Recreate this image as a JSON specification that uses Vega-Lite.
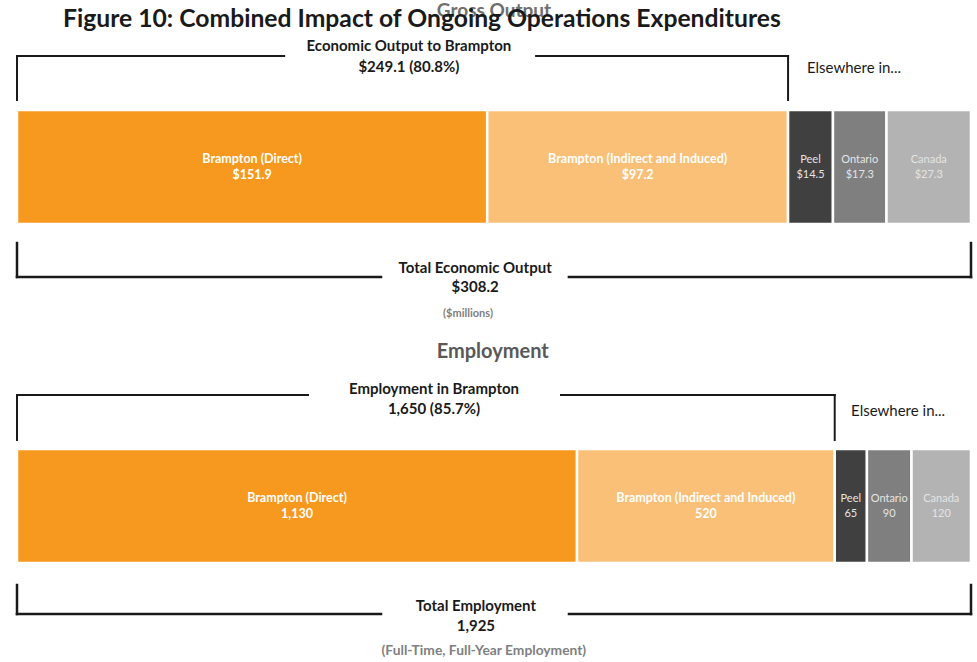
{
  "$schema": "https://vega.github.io/schema/vega-lite/v6.json",
  "padding": {"left": 15, "right": 5, "top": 0, "bottom": 0},
  "background": "white",
  "config": {"view": {"stroke": null}, "font": "Lato", "text": {"font": "Lato"}},
  "spacing": 10,
  "vconcat": [
    {
      "width": 954,
      "height": 330,
      "data": {"values": [
        {"region": "Brampton (Direct)", "value": 151.9, "order": 1},
        {"region": "Brampton (Indirect and Induced)", "value": 97.2, "order": 2},
        {"region": "Peel", "value": 14.5, "order": 3},
        {"region": "Ontario", "value": 17.3, "order": 4},
        {"region": "Canada", "value": 27.3, "order": 5}
      ]},
      "layer": [
        {
          "transform": [{"stack": "value", "groupby": [], "sort": [{"field": "order", "order": "ascending"}], "as": ["x0", "x1"]}],
          "mark": {"type": "bar", "stroke": "white", "strokeWidth": 2.5},
          "encoding": {
            "x": {"field": "x0", "type": "quantitative", "scale": {"domain": [0, 308.2], "nice": false, "zero": false}, "axis": null},
            "x2": {"field": "x1"},
            "y": {"datum": 110, "type": "quantitative", "scale": {"domain": [0, 330], "nice": false, "reverse": true, "zero": false}, "axis": null},
            "y2": {"datum": 224},
            "color": {"field": "region", "type": "nominal", "scale": {"domain": ["Brampton (Direct)", "Brampton (Indirect and Induced)", "Peel", "Ontario", "Canada"], "range": ["#F7991E", "#FAC078", "#404040", "#7F7F7F", "#B3B3B3"]}, "legend": null}
          }
        },
        {
          "transform": [{"stack": "value", "groupby": [], "sort": [{"field": "order", "order": "ascending"}], "as": ["x0", "x1"]}, {"calculate": "(datum.x0 + datum.x1) / 2", "as": "xm"}, {"filter": "datum.order <= 2"}],
          "mark": {"type": "text", "fontSize": 12.5, "fontWeight": "bold", "color": "white", "dy": -8},
          "encoding": {"x": {"field": "xm", "type": "quantitative"}, "y": {"datum": 167}, "text": {"field": "region"}}
        },
        {
          "transform": [{"stack": "value", "groupby": [], "sort": [{"field": "order", "order": "ascending"}], "as": ["x0", "x1"]}, {"calculate": "(datum.x0 + datum.x1) / 2", "as": "xm"}, {"filter": "datum.order <= 2"}],
          "mark": {"type": "text", "fontSize": 12.5, "fontWeight": "bold", "color": "white", "dy": 8},
          "encoding": {"x": {"field": "xm", "type": "quantitative"}, "y": {"datum": 167}, "text": {"field": "value", "format": "$.1f"}}
        },
        {
          "transform": [{"stack": "value", "groupby": [], "sort": [{"field": "order", "order": "ascending"}], "as": ["x0", "x1"]}, {"calculate": "(datum.x0 + datum.x1) / 2", "as": "xm"}, {"filter": "datum.order > 2"}],
          "mark": {"type": "text", "fontSize": 11, "color": "#e4e4e4", "dy": -7},
          "encoding": {"x": {"field": "xm", "type": "quantitative"}, "y": {"datum": 167}, "text": {"field": "region"}}
        },
        {
          "transform": [{"stack": "value", "groupby": [], "sort": [{"field": "order", "order": "ascending"}], "as": ["x0", "x1"]}, {"calculate": "(datum.x0 + datum.x1) / 2", "as": "xm"}, {"filter": "datum.order > 2"}],
          "mark": {"type": "text", "fontSize": 11, "color": "#e4e4e4", "dy": 8},
          "encoding": {"x": {"field": "xm", "type": "quantitative"}, "y": {"datum": 167}, "text": {"field": "value", "format": "$.1f"}}
        },
        {"data": {"values": [{}]}, "mark": {"type": "text", "fontSize": 19, "fontWeight": "bold", "color": "#6f6f6f"}, "encoding": {"x": {"datum": 154.1}, "y": {"datum": 11}, "text": {"value": "Gross Output"}}},
        {"data": {"values": [{}]}, "mark": {"type": "text", "fontSize": 24.7, "fontWeight": "bold", "color": "#1a1a1a", "align": "left"}, "encoding": {"x": {"datum": 14.86}, "y": {"datum": 20}, "text": {"value": "Figure 10: Combined Impact of Ongoing Operations Expenditures"}}},
        {"data": {"values": [{}]}, "mark": {"type": "rule", "strokeWidth": 2, "color": "#1a1a1a", "strokeCap": "square"}, "encoding": {"x": {"datum": 0}, "x2": {"datum": 86.3}, "y": {"datum": 56}}},
        {"data": {"values": [{}]}, "mark": {"type": "rule", "strokeWidth": 2, "color": "#1a1a1a", "strokeCap": "square"}, "encoding": {"x": {"datum": 167.7}, "x2": {"datum": 249.1}, "y": {"datum": 56}}},
        {"data": {"values": [{}]}, "mark": {"type": "rule", "strokeWidth": 2, "color": "#1a1a1a", "strokeCap": "square"}, "encoding": {"x": {"datum": 0}, "y": {"datum": 56}, "y2": {"datum": 100}}},
        {"data": {"values": [{}]}, "mark": {"type": "rule", "strokeWidth": 2, "color": "#1a1a1a", "strokeCap": "square"}, "encoding": {"x": {"datum": 249.1}, "y": {"datum": 56}, "y2": {"datum": 100}}},
        {"data": {"values": [{}]}, "mark": {"type": "text", "fontSize": 15, "fontWeight": "bold", "color": "#1a1a1a"}, "encoding": {"x": {"datum": 126.6}, "y": {"datum": 46}, "text": {"value": "Economic Output to Brampton"}}},
        {"data": {"values": [{}]}, "mark": {"type": "text", "fontSize": 15, "fontWeight": "bold", "color": "#1a1a1a"}, "encoding": {"x": {"datum": 126.6}, "y": {"datum": 67}, "text": {"value": "$249.1 (80.8%)"}}},
        {"data": {"values": [{}]}, "mark": {"type": "text", "fontSize": 15, "align": "left", "color": "#1a1a1a"}, "encoding": {"x": {"datum": 255.2}, "y": {"datum": 68}, "text": {"value": "Elsewhere in..."}}},
        {"data": {"values": [{}]}, "mark": {"type": "rule", "strokeWidth": 2.5, "color": "#1a1a1a", "strokeCap": "square"}, "encoding": {"x": {"datum": 0}, "y": {"datum": 243}, "y2": {"datum": 277}}},
        {"data": {"values": [{}]}, "mark": {"type": "rule", "strokeWidth": 2.5, "color": "#1a1a1a", "strokeCap": "square"}, "encoding": {"x": {"datum": 308.2}, "y": {"datum": 243}, "y2": {"datum": 277}}},
        {"data": {"values": [{}]}, "mark": {"type": "rule", "strokeWidth": 2.5, "color": "#1a1a1a", "strokeCap": "square"}, "encoding": {"x": {"datum": 0}, "x2": {"datum": 117.6}, "y": {"datum": 277}}},
        {"data": {"values": [{}]}, "mark": {"type": "rule", "strokeWidth": 2.5, "color": "#1a1a1a", "strokeCap": "square"}, "encoding": {"x": {"datum": 178.3}, "x2": {"datum": 308.2}, "y": {"datum": 277}}},
        {"data": {"values": [{}]}, "mark": {"type": "text", "fontSize": 15, "fontWeight": "bold", "color": "#1a1a1a"}, "encoding": {"x": {"datum": 148}, "y": {"datum": 268}, "text": {"value": "Total Economic Output"}}},
        {"data": {"values": [{}]}, "mark": {"type": "text", "fontSize": 15, "fontWeight": "bold", "color": "#1a1a1a"}, "encoding": {"x": {"datum": 148}, "y": {"datum": 287}, "text": {"value": "$308.2"}}},
        {"data": {"values": [{}]}, "mark": {"type": "text", "fontSize": 11, "fontWeight": "bold", "color": "#7f7f7f"}, "encoding": {"x": {"datum": 145.7}, "y": {"datum": 314}, "text": {"value": "($millions)"}}}
      ]
    },
    {
      "width": 954,
      "height": 322,
      "data": {"values": [
        {"region": "Brampton (Direct)", "value": 1130, "order": 1},
        {"region": "Brampton (Indirect and Induced)", "value": 520, "order": 2},
        {"region": "Peel", "value": 65, "order": 3},
        {"region": "Ontario", "value": 90, "order": 4},
        {"region": "Canada", "value": 120, "order": 5}
      ]},
      "layer": [
        {
          "transform": [{"stack": "value", "groupby": [], "sort": [{"field": "order", "order": "ascending"}], "as": ["x0", "x1"]}],
          "mark": {"type": "bar", "stroke": "white", "strokeWidth": 2.5},
          "encoding": {
            "x": {"field": "x0", "type": "quantitative", "scale": {"domain": [0, 1925], "nice": false, "zero": false}, "axis": null},
            "x2": {"field": "x1"},
            "y": {"datum": 109, "type": "quantitative", "scale": {"domain": [0, 322], "nice": false, "reverse": true, "zero": false}, "axis": null},
            "y2": {"datum": 223},
            "color": {"field": "region", "type": "nominal", "scale": {"domain": ["Brampton (Direct)", "Brampton (Indirect and Induced)", "Peel", "Ontario", "Canada"], "range": ["#F7991E", "#FAC078", "#404040", "#7F7F7F", "#B3B3B3"]}, "legend": null}
          }
        },
        {
          "transform": [{"stack": "value", "groupby": [], "sort": [{"field": "order", "order": "ascending"}], "as": ["x0", "x1"]}, {"calculate": "(datum.x0 + datum.x1) / 2", "as": "xm"}, {"filter": "datum.order <= 2"}],
          "mark": {"type": "text", "fontSize": 12.5, "fontWeight": "bold", "color": "white", "dy": -8},
          "encoding": {"x": {"field": "xm", "type": "quantitative"}, "y": {"datum": 166}, "text": {"field": "region"}}
        },
        {
          "transform": [{"stack": "value", "groupby": [], "sort": [{"field": "order", "order": "ascending"}], "as": ["x0", "x1"]}, {"calculate": "(datum.x0 + datum.x1) / 2", "as": "xm"}, {"filter": "datum.order <= 2"}],
          "mark": {"type": "text", "fontSize": 12.5, "fontWeight": "bold", "color": "white", "dy": 8},
          "encoding": {"x": {"field": "xm", "type": "quantitative"}, "y": {"datum": 166}, "text": {"field": "value", "format": ",d"}}
        },
        {
          "transform": [{"stack": "value", "groupby": [], "sort": [{"field": "order", "order": "ascending"}], "as": ["x0", "x1"]}, {"calculate": "(datum.x0 + datum.x1) / 2", "as": "xm"}, {"filter": "datum.order > 2"}],
          "mark": {"type": "text", "fontSize": 11, "color": "#e4e4e4", "dy": -7},
          "encoding": {"x": {"field": "xm", "type": "quantitative"}, "y": {"datum": 166}, "text": {"field": "region"}}
        },
        {
          "transform": [{"stack": "value", "groupby": [], "sort": [{"field": "order", "order": "ascending"}], "as": ["x0", "x1"]}, {"calculate": "(datum.x0 + datum.x1) / 2", "as": "xm"}, {"filter": "datum.order > 2"}],
          "mark": {"type": "text", "fontSize": 11, "color": "#e4e4e4", "dy": 8},
          "encoding": {"x": {"field": "xm", "type": "quantitative"}, "y": {"datum": 166}, "text": {"field": "value", "format": ",d"}}
        },
        {"data": {"values": [{}]}, "mark": {"type": "text", "fontSize": 20, "fontWeight": "bold", "color": "#595959"}, "encoding": {"x": {"datum": 960}, "y": {"datum": 12}, "text": {"value": "Employment"}}},
        {"data": {"values": [{}]}, "mark": {"type": "rule", "strokeWidth": 2, "color": "#1a1a1a", "strokeCap": "square"}, "encoding": {"x": {"datum": 0}, "x2": {"datum": 587.2}, "y": {"datum": 55}}},
        {"data": {"values": [{}]}, "mark": {"type": "rule", "strokeWidth": 2, "color": "#1a1a1a", "strokeCap": "square"}, "encoding": {"x": {"datum": 1097.7}, "x2": {"datum": 1650}, "y": {"datum": 55}}},
        {"data": {"values": [{}]}, "mark": {"type": "rule", "strokeWidth": 2, "color": "#1a1a1a", "strokeCap": "square"}, "encoding": {"x": {"datum": 0}, "y": {"datum": 55}, "y2": {"datum": 100}}},
        {"data": {"values": [{}]}, "mark": {"type": "rule", "strokeWidth": 2, "color": "#1a1a1a", "strokeCap": "square"}, "encoding": {"x": {"datum": 1650}, "y": {"datum": 55}, "y2": {"datum": 100}}},
        {"data": {"values": [{}]}, "mark": {"type": "text", "fontSize": 15, "fontWeight": "bold", "color": "#1a1a1a"}, "encoding": {"x": {"datum": 841.4}, "y": {"datum": 49}, "text": {"value": "Employment in Brampton"}}},
        {"data": {"values": [{}]}, "mark": {"type": "text", "fontSize": 15, "fontWeight": "bold", "color": "#1a1a1a"}, "encoding": {"x": {"datum": 841.4}, "y": {"datum": 69}, "text": {"value": "1,650 (85.7%)"}}},
        {"data": {"values": [{}]}, "mark": {"type": "text", "fontSize": 15, "align": "left", "color": "#1a1a1a"}, "encoding": {"x": {"datum": 1683}, "y": {"datum": 71}, "text": {"value": "Elsewhere in..."}}},
        {"data": {"values": [{}]}, "mark": {"type": "rule", "strokeWidth": 2.5, "color": "#1a1a1a", "strokeCap": "square"}, "encoding": {"x": {"datum": 0}, "y": {"datum": 245}, "y2": {"datum": 274}}},
        {"data": {"values": [{}]}, "mark": {"type": "rule", "strokeWidth": 2.5, "color": "#1a1a1a", "strokeCap": "square"}, "encoding": {"x": {"datum": 1925}, "y": {"datum": 245}, "y2": {"datum": 274}}},
        {"data": {"values": [{}]}, "mark": {"type": "rule", "strokeWidth": 2.5, "color": "#1a1a1a", "strokeCap": "square"}, "encoding": {"x": {"datum": 0}, "x2": {"datum": 734.5}, "y": {"datum": 274}}},
        {"data": {"values": [{}]}, "mark": {"type": "rule", "strokeWidth": 2.5, "color": "#1a1a1a", "strokeCap": "square"}, "encoding": {"x": {"datum": 1113.8}, "x2": {"datum": 1925}, "y": {"datum": 274}}},
        {"data": {"values": [{}]}, "mark": {"type": "text", "fontSize": 15, "fontWeight": "bold", "color": "#1a1a1a"}, "encoding": {"x": {"datum": 926}, "y": {"datum": 266}, "text": {"value": "Total Employment"}}},
        {"data": {"values": [{}]}, "mark": {"type": "text", "fontSize": 15, "fontWeight": "bold", "color": "#1a1a1a"}, "encoding": {"x": {"datum": 926}, "y": {"datum": 286}, "text": {"value": "1,925"}}},
        {"data": {"values": [{}]}, "mark": {"type": "text", "fontSize": 13.8, "fontWeight": "bold", "color": "#7f7f7f"}, "encoding": {"x": {"datum": 942}, "y": {"datum": 311}, "text": {"value": "(Full-Time, Full-Year Employment)"}}}
      ]
    }
  ]
}
